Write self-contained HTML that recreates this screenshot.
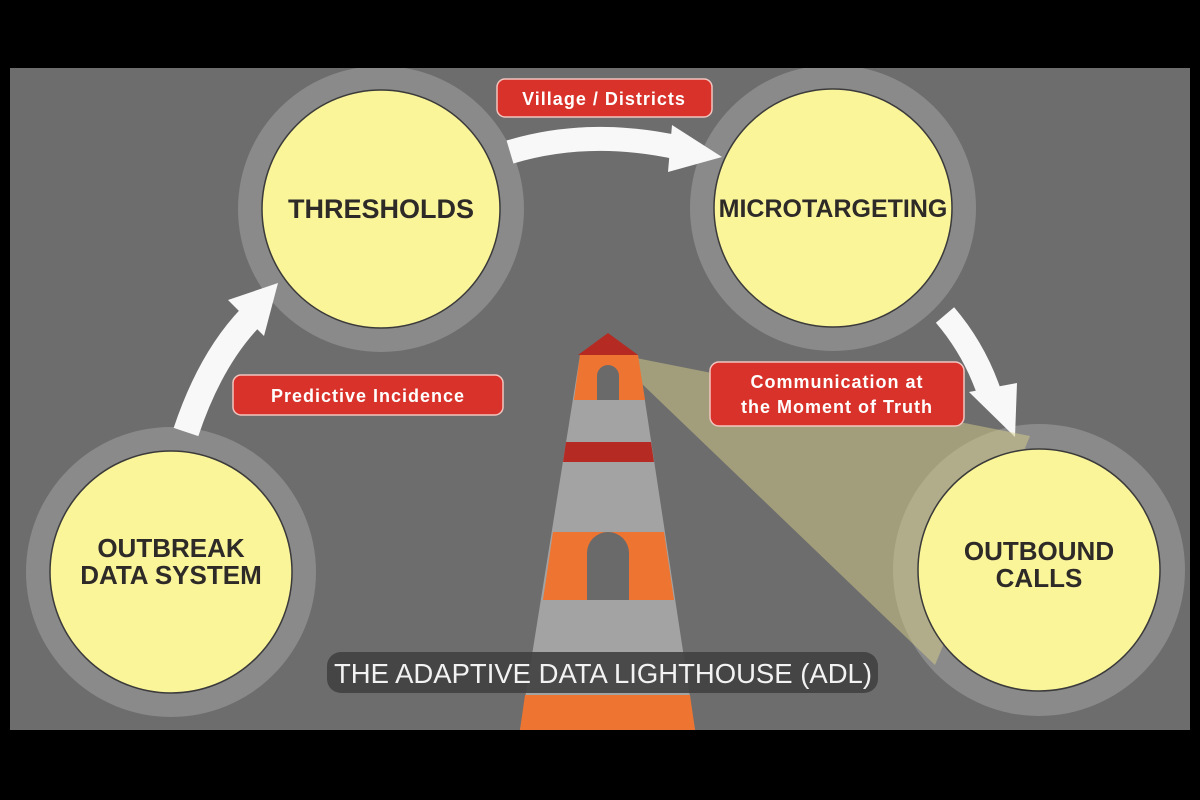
<!DOCTYPE html>
<html><head><meta charset="utf-8"><style>
html,body{margin:0;padding:0;background:#000;}
svg{display:block;}
</style></head><body>
<svg width="1200" height="800" viewBox="0 0 1200 800" xmlns="http://www.w3.org/2000/svg">
<rect width="1200" height="800" fill="#000"/>
<defs><clipPath id="p"><rect x="10" y="68" width="1180" height="662"/></clipPath></defs>
<g clip-path="url(#p)">
<rect x="10" y="68" width="1180" height="662" fill="#6d6d6d"/>
<circle cx="381" cy="209" r="143" fill="#8a8a8a"/>
<circle cx="833" cy="208" r="143" fill="#8a8a8a"/>
<circle cx="171" cy="572" r="145" fill="#8a8a8a"/>
<circle cx="1039" cy="570" r="146" fill="#8a8a8a"/>
<path d="M186,432 Q210,360 250,318" stroke="#f8f8f8" stroke-width="26" fill="none"/>
<polygon points="228,300 278,283 264,336" fill="#f8f8f8"/>
<path d="M510,152 Q590,128 680,148" stroke="#f8f8f8" stroke-width="24" fill="none"/>
<polygon points="672,125 722,157 668,172" fill="#f8f8f8"/>
<path d="M945,315 Q975,350 990,395" stroke="#f8f8f8" stroke-width="24" fill="none"/>
<polygon points="969,392 1017,383 1015,437" fill="#f8f8f8"/>
<polygon points="636,358 1030,436 935,665 640,382" fill="#d8cf8a" fill-opacity="0.5"/>
<circle cx="381" cy="209" r="119" fill="#fbf59a" stroke="#3a3a3a" stroke-width="1.5"/>
<circle cx="833" cy="208" r="119" fill="#fbf59a" stroke="#3a3a3a" stroke-width="1.5"/>
<circle cx="171" cy="572" r="121" fill="#fbf59a" stroke="#3a3a3a" stroke-width="1.5"/>
<circle cx="1039" cy="570" r="121" fill="#fbf59a" stroke="#3a3a3a" stroke-width="1.5"/>
<g font-family="Liberation Sans, sans-serif" font-weight="bold" fill="#2d2a28" text-anchor="middle">
<text x="381" y="218" font-size="27">THRESHOLDS</text>
<text x="833" y="217" font-size="25">MICROTARGETING</text>
<text x="171" y="557" font-size="26">OUTBREAK</text>
<text x="171" y="584" font-size="26">DATA SYSTEM</text>
<text x="1039" y="560" font-size="26">OUTBOUND</text>
<text x="1039" y="587" font-size="26">CALLS</text>
</g>
<polygon points="580,355 638,355 695,730 520,730" fill="#a3a3a3"/>
<polygon points="580,355 638,355 645,400 574,400" fill="#ee7431"/>
<polygon points="566,442 651,442 654,462 563,462" fill="#b52a22"/>
<polygon points="553,532 664,532 674,600 543,600" fill="#ee7431"/>
<polygon points="525,695 690,695 695,730 520,730" fill="#ee7431"/>
<polygon points="608,333 578,355 638,355" fill="#b52a22"/>
<path d="M597,400 V376 A11,11 0 0 1 619,376 V400 Z" fill="#6a6a6a"/>
<path d="M587,600 V553 A21,21 0 0 1 629,553 V600 Z" fill="#6a6a6a"/>
<g font-family="Liberation Sans, sans-serif" font-weight="bold" fill="#fff" text-anchor="middle" letter-spacing="1">
<rect x="497" y="79" width="215" height="38" rx="8" fill="#d8322a" stroke="#f2c5c0" stroke-width="1.5"/>
<text x="604" y="105" font-size="18">Village / Districts</text>
<rect x="233" y="375" width="270" height="40" rx="8" fill="#d8322a" stroke="#f2c5c0" stroke-width="1.5"/>
<text x="368" y="402" font-size="18">Predictive Incidence</text>
<rect x="710" y="362" width="254" height="64" rx="9" fill="#d8322a" stroke="#f2c5c0" stroke-width="1.5"/>
<text x="837" y="388" font-size="18">Communication at</text>
<text x="837" y="413" font-size="18">the Moment of Truth</text>
</g>
<rect x="327" y="652" width="551" height="41" rx="14" fill="#424242" fill-opacity="0.92"/>
<text x="334" y="683" font-family="Liberation Sans, sans-serif" font-size="28" fill="#f2f2f2" textLength="538" lengthAdjust="spacingAndGlyphs">THE ADAPTIVE DATA LIGHTHOUSE (ADL)</text>
</g>
</svg>
</body></html>
